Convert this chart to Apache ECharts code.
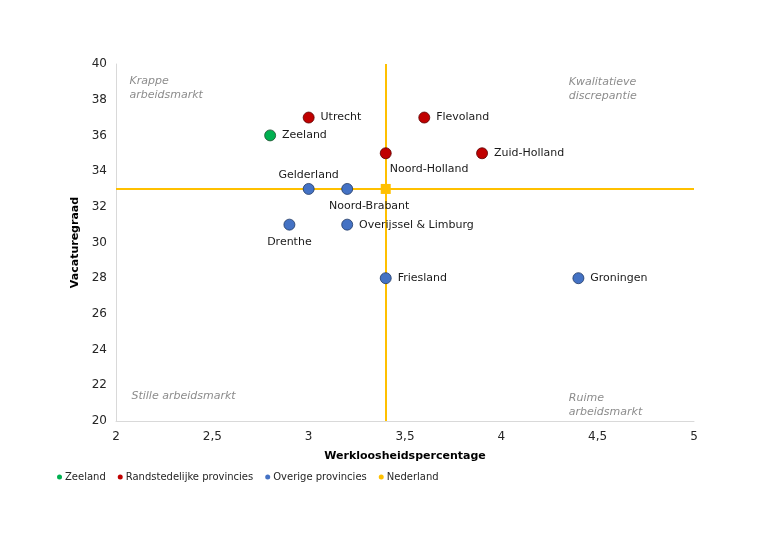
<!DOCTYPE html>
<html><head><meta charset="utf-8">
<script src="https://cdn.jsdelivr.net/npm/echarts@6/dist/echarts.min.js"></script>
<style>html,body{margin:0;padding:0;background:#fff}#c{width:768px;height:543px}</style>
</head><body><div id="c"></div>
<script>
// Data
const zeelandNames = ['Zeeland'];
const zeelandX = [2.8];
const zeelandY = [36];
const randNames = ['Utrecht', 'Flevoland', 'Noord-Holland', 'Zuid-Holland'];
const randX = [3.0, 3.6, 3.4, 3.9];
const randY = [37, 37, 35, 35];
const overigNames = ['Gelderland', 'Noord-Brabant', 'Drenthe', 'Overijssel & Limburg', 'Friesland', 'Groningen'];
const overigX = [3.0, 3.2, 2.9, 3.2, 3.4, 4.4];
const overigY = [33, 33, 31, 31, 28, 28];
const nlX = [3.4];
const nlY = [33];
const quadTexts = ['Krappe\narbeidsmarkt', 'Kwalitatieve\ndiscrepantie', 'Stille arbeidsmarkt', 'Ruime\narbeidsmarkt'];
const quadX = [2.07, 4.35, 2.08, 4.35];
const quadY = [38.65, 38.6, 21.4, 20.9];

// label placement (style, not data)
const labelCfg = {
  'Gelderland': { position: 'top', distance: 2 },
  'Noord-Brabant': { position: 'bottom', offset: [22, 0] },
  'Drenthe': { position: 'bottom' },
  'Noord-Holland': { position: 'bottom', align: 'left', offset: [4, 0], distance: 4 }
};

const FONT = 'DejaVu Sans';
function pts(names, xs, ys) {
  return names.map((n, i) => ({
    name: n, value: [xs[i], ys[i]],
    label: labelCfg[n] || { position: 'right' }
  }));
}
function fmtComma(v) { return String(v).replace('.', ','); }

const labelStyle = { show: true, formatter: '{b}', color: '#1A1A1A', fontFamily: FONT, fontSize: 11, distance: 6, opacity: 1 };

const chart = echarts.init(document.getElementById('c'), null, { renderer: 'canvas' });

const option = {
  backgroundColor: '#fff',
  animation: false,
  grid: { left: 116, right: 74, top: 64, bottom: 122, containLabel: false },
  xAxis: {
    type: 'value', min: 2, max: 5, interval: 0.5,
    name: 'Werkloosheidspercentage', nameLocation: 'middle', nameGap: 30,
    nameTextStyle: { fontFamily: FONT, fontWeight: 'bold', fontSize: 11, color: '#000' },
    axisLine: { show: true, lineStyle: { color: '#D9D9D9', width: 1 } },
    axisTick: { show: false },
    splitLine: { show: false },
    axisLabel: { fontFamily: FONT, fontSize: 12, color: '#262626', margin: 10, formatter: fmtComma }
  },
  yAxis: {
    type: 'value', min: 20, max: 40, interval: 2,
    name: 'Vacaturegraad', nameLocation: 'middle', nameGap: 29, nameRotate: 90,
    nameTextStyle: { fontFamily: FONT, fontWeight: 'bold', fontSize: 11, color: '#000' },
    axisLine: { show: true, lineStyle: { color: '#D9D9D9', width: 1 } },
    axisTick: { show: false },
    splitLine: { show: false },
    axisLabel: { fontFamily: FONT, fontSize: 12, color: '#262626', margin: 9 }
  },
  legend: {
    left: 52, top: 467, itemWidth: 5, itemHeight: 5, itemGap: 12,
    icon: 'circle',
    itemStyle: { borderWidth: 0 },
    textStyle: { fontFamily: FONT, fontSize: 10, color: '#262626', padding: [0, 0, 0, -2] },
    data: ['Zeeland', 'Randstedelijke provincies', 'Overige provincies', 'Nederland']
  },
  series: [
    {
      name: 'Nederland', type: 'scatter', symbol: 'rect', symbolSize: 10, z: 3,
      itemStyle: { color: '#FFC000', opacity: 1 },
      data: nlX.map((x, i) => [x, nlY[i]]),
      markLine: {
        silent: true, symbol: 'none', label: { show: false }, z: 1,
        lineStyle: { color: '#FFC000', width: 2, type: 'solid' },
        data: [{ xAxis: nlX[0] }, { yAxis: nlY[0] }]
      }
    },
    {
      name: 'Zeeland', type: 'scatter', symbolSize: 11, z: 4,
      itemStyle: { color: '#00B050', borderColor: '#1F4E2F', borderWidth: 0.8, opacity: 1 },
      label: labelStyle,
      data: pts(zeelandNames, zeelandX, zeelandY)
    },
    {
      name: 'Randstedelijke provincies', type: 'scatter', symbolSize: 11, z: 4,
      itemStyle: { color: '#C00000', borderColor: '#5A0000', borderWidth: 0.8, opacity: 1 },
      label: labelStyle,
      data: pts(randNames, randX, randY)
    },
    {
      name: 'Overige provincies', type: 'scatter', symbolSize: 11, z: 4,
      itemStyle: { color: '#4472C4', borderColor: '#1F3864', borderWidth: 0.8, opacity: 1 },
      label: labelStyle,
      data: pts(overigNames, overigX, overigY)
    },
    {
      name: 'quadrants', type: 'scatter', symbolSize: 0, silent: true, z: 2,
      label: {
        show: true, position: 'right', distance: 0, formatter: '{b}',
        fontFamily: FONT, fontSize: 11, fontStyle: 'italic', color: '#6E6E6E', lineHeight: 14, align: 'left'
      },
      data: quadTexts.map((t, i) => ({ name: t, value: [quadX[i], quadY[i]] }))
    }
  ]
};
chart.setOption(option);
</script>
</body></html>
